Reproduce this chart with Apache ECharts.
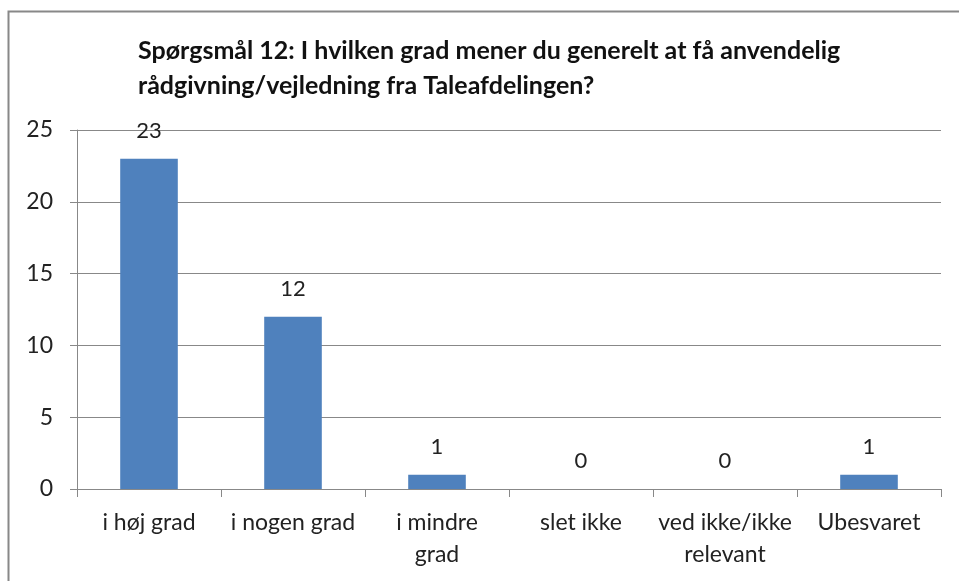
<!DOCTYPE html>
<html>
<head>
<meta charset="utf-8">
<script src="https://cdn.jsdelivr.net/npm/echarts@6/dist/echarts.min.js"></script>
<style>
  html, body { margin: 0; padding: 0; background: #fff; }
  #chart { width: 959px; height: 581px; }
</style>
</head>
<body>
<div id="chart"></div>
<script>
const titleText = 'Spørgsmål 12: I hvilken grad mener du generelt at få anvendelig\nrådgivning/vejledning fra Taleafdelingen?'
const categories = ['i høj grad', 'i nogen grad', 'i mindre\ngrad', 'slet ikke', 'ved ikke/ikke\nrelevant', 'Ubesvaret']
const answers = [23, 12, 1, 0, 0, 1]
const yTicks = { min: 0, max: 25, interval: 5 }

const font = 'Lato, "Open Sans", sans-serif'
const chart = echarts.init(document.getElementById('chart'))
chart.setOption({
  animation: false,
  textStyle: { fontFamily: font },
  title: {
    text: titleText,
    left: 133,
    top: 28,
    textStyle: { fontSize: 25, fontWeight: 'bold', color: '#111', lineHeight: 35, fontFamily: font }
  },
  graphic: [
    {
      type: 'rect',
      shape: { x: 8.5, y: 11.5, width: 960, height: 600 },
      style: { fill: 'none', stroke: '#888', lineWidth: 2 },
      silent: true
    }
  ],
  grid: { left: 77, right: 18, top: 130, bottom: 92 },
  xAxis: {
    type: 'category',
    data: categories,
    axisLine: { lineStyle: { color: '#888' } },
    axisTick: { show: true, length: 8, lineStyle: { color: '#888' } },
    axisLabel: { color: '#222', fontSize: 23, lineHeight: 32, margin: 18, interval: 0 }
  },
  yAxis: {
    type: 'value',
    min: yTicks.min,
    max: yTicks.max,
    interval: yTicks.interval,
    axisLine: { show: true, lineStyle: { color: '#888' } },
    axisTick: { show: true, length: 7, lineStyle: { color: '#888' } },
    splitLine: { lineStyle: { color: '#888' } },
    axisLabel: { color: '#222', fontSize: 23, margin: 24 }
  },
  series: [
    {
      type: 'bar',
      data: answers,
      barWidth: '40%',
      itemStyle: { color: '#4F81BD' },
      label: { show: true, position: 'top', distance: 17, color: '#222', fontSize: 22 }
    }
  ]
})
</script>
</body>
</html>
